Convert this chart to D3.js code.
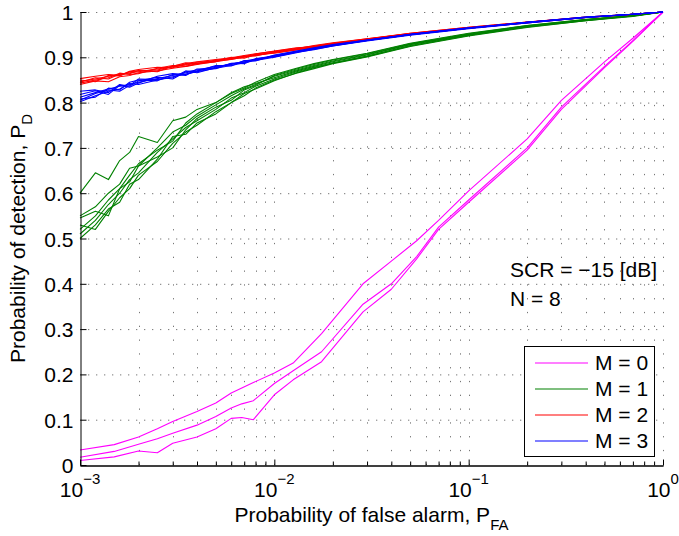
<!DOCTYPE html>
<html>
<head>
<meta charset="utf-8">
<script src="https://cdn.jsdelivr.net/npm/d3@7"></script>
<style>
  body { margin: 0; background: #fff; }
  svg { display: block; font-family: "Liberation Sans", Arial, sans-serif; }
</style>
</head>
<body>
<svg id="chart" width="679" height="536"></svg>
<script>
// false alarm grid shared by the M = 1..3 runs
const pfa = [0.001, 0.0012, 0.0014, 0.0016, 0.0018, 0.002, 0.0025, 0.003, 0.0035, 0.004,
             0.005, 0.006, 0.007, 0.008, 0.01, 0.013, 0.016, 0.02, 0.03, 0.05,
             0.1, 0.2, 0.4, 0.7, 1];

// false alarm grid for the M = 0 runs
const pfa0 = [0.001, 0.0015, 0.002, 0.0025, 0.003, 0.004, 0.005, 0.006, 0.0068, 0.0078,
              0.01, 0.0125, 0.0175, 0.0286, 0.04, 0.054, 0.07, 0.1, 0.2, 0.3,
              0.5, 0.7, 1];

const pdM0 = [
  [0.033, 0.045, 0.062, 0.080, 0.096, 0.118, 0.137, 0.159, 0.170, 0.182, 0.203, 0.225, 0.290, 0.400, 0.450, 0.495, 0.540, 0.605, 0.720, 0.805, 0.890, 0.942, 1],
  [0.017, 0.030, 0.046, 0.058, 0.070, 0.088, 0.107, 0.126, 0.135, 0.142, 0.180, 0.208, 0.250, 0.355, 0.400, 0.460, 0.525, 0.585, 0.700, 0.790, 0.880, 0.937, 1],
  [0.010, 0.018, 0.031, 0.027, 0.048, 0.062, 0.080, 0.103, 0.105, 0.100, 0.155, 0.188, 0.228, 0.338, 0.388, 0.455, 0.520, 0.580, 0.695, 0.785, 0.877, 0.935, 1]
];

const pdM1 = [
  [0.600, 0.645, 0.630, 0.672, 0.690, 0.725, 0.712, 0.760, 0.768, 0.785, 0.800, 0.822, 0.835, 0.842, 0.855, 0.870, 0.880, 0.890, 0.905, 0.928, 0.950, 0.968, 0.982, 0.992, 1],
  [0.550, 0.570, 0.600, 0.620, 0.655, 0.660, 0.700, 0.735, 0.750, 0.770, 0.795, 0.815, 0.830, 0.840, 0.858, 0.872, 0.882, 0.892, 0.906, 0.929, 0.951, 0.969, 0.983, 0.992, 1],
  [0.510, 0.540, 0.575, 0.600, 0.630, 0.645, 0.690, 0.720, 0.745, 0.760, 0.785, 0.810, 0.822, 0.836, 0.852, 0.868, 0.878, 0.888, 0.903, 0.926, 0.949, 0.968, 0.982, 0.991, 1],
  [0.530, 0.520, 0.560, 0.590, 0.610, 0.640, 0.670, 0.710, 0.735, 0.750, 0.780, 0.800, 0.820, 0.830, 0.848, 0.866, 0.877, 0.887, 0.902, 0.925, 0.948, 0.967, 0.981, 0.991, 1],
  [0.545, 0.560, 0.550, 0.610, 0.625, 0.660, 0.680, 0.700, 0.740, 0.765, 0.790, 0.805, 0.828, 0.838, 0.860, 0.874, 0.884, 0.894, 0.908, 0.930, 0.952, 0.970, 0.983, 0.992, 1],
  [0.500, 0.530, 0.565, 0.580, 0.620, 0.630, 0.675, 0.725, 0.730, 0.755, 0.775, 0.800, 0.815, 0.832, 0.850, 0.865, 0.875, 0.886, 0.901, 0.924, 0.947, 0.966, 0.981, 0.990, 1],
  [0.520, 0.550, 0.585, 0.610, 0.640, 0.665, 0.695, 0.715, 0.755, 0.775, 0.800, 0.820, 0.832, 0.845, 0.862, 0.876, 0.886, 0.895, 0.909, 0.931, 0.953, 0.970, 0.984, 0.992, 1]
];

const pdM2 = [
  [0.847, 0.852, 0.858, 0.862, 0.866, 0.868, 0.874, 0.879, 0.883, 0.887, 0.893, 0.898, 0.902, 0.905, 0.911, 0.918, 0.924, 0.930, 0.940, 0.952, 0.965, 0.977, 0.988, 0.995, 1],
  [0.840, 0.848, 0.846, 0.857, 0.860, 0.866, 0.870, 0.876, 0.880, 0.886, 0.890, 0.896, 0.900, 0.904, 0.910, 0.917, 0.923, 0.929, 0.939, 0.951, 0.964, 0.977, 0.988, 0.995, 1],
  [0.853, 0.858, 0.862, 0.860, 0.869, 0.873, 0.878, 0.877, 0.886, 0.890, 0.895, 0.899, 0.904, 0.908, 0.913, 0.920, 0.925, 0.931, 0.941, 0.953, 0.966, 0.978, 0.989, 0.995, 1],
  [0.843, 0.850, 0.855, 0.865, 0.862, 0.864, 0.876, 0.882, 0.880, 0.884, 0.891, 0.900, 0.898, 0.906, 0.909, 0.916, 0.922, 0.928, 0.938, 0.950, 0.964, 0.976, 0.988, 0.995, 1],
  [0.850, 0.846, 0.860, 0.859, 0.868, 0.870, 0.872, 0.880, 0.888, 0.885, 0.894, 0.897, 0.903, 0.903, 0.912, 0.919, 0.926, 0.932, 0.941, 0.952, 0.965, 0.977, 0.989, 0.995, 1],
  [0.845, 0.855, 0.852, 0.863, 0.864, 0.871, 0.868, 0.881, 0.884, 0.889, 0.892, 0.895, 0.901, 0.907, 0.914, 0.921, 0.923, 0.930, 0.940, 0.953, 0.966, 0.978, 0.988, 0.995, 1]
];

const pdM3 = [
  [0.812, 0.822, 0.830, 0.836, 0.840, 0.845, 0.853, 0.860, 0.866, 0.870, 0.878, 0.885, 0.890, 0.894, 0.902, 0.912, 0.919, 0.926, 0.937, 0.950, 0.964, 0.977, 0.988, 0.995, 1],
  [0.802, 0.815, 0.825, 0.830, 0.842, 0.840, 0.850, 0.857, 0.863, 0.868, 0.876, 0.882, 0.888, 0.893, 0.900, 0.910, 0.918, 0.925, 0.936, 0.949, 0.963, 0.976, 0.988, 0.995, 1],
  [0.825, 0.828, 0.822, 0.840, 0.836, 0.848, 0.856, 0.852, 0.868, 0.872, 0.880, 0.884, 0.892, 0.896, 0.904, 0.913, 0.920, 0.927, 0.938, 0.951, 0.965, 0.977, 0.989, 0.995, 1],
  [0.808, 0.812, 0.832, 0.828, 0.845, 0.850, 0.848, 0.862, 0.860, 0.874, 0.875, 0.887, 0.886, 0.897, 0.901, 0.911, 0.917, 0.925, 0.937, 0.950, 0.964, 0.976, 0.988, 0.995, 1],
  [0.818, 0.826, 0.818, 0.838, 0.834, 0.843, 0.858, 0.864, 0.862, 0.869, 0.882, 0.881, 0.893, 0.892, 0.905, 0.914, 0.921, 0.928, 0.938, 0.951, 0.965, 0.977, 0.989, 0.995, 1],
  [0.805, 0.820, 0.828, 0.825, 0.838, 0.852, 0.851, 0.855, 0.870, 0.866, 0.877, 0.886, 0.889, 0.895, 0.903, 0.912, 0.919, 0.926, 0.937, 0.950, 0.964, 0.977, 0.988, 0.995, 1]
];

const legendLabels = ["M = 0", "M = 1", "M = 2", "M = 3"];
const yTicks = d3.range(0, 11).map(i => i / 10);
const xMajor = [1e-3, 1e-2, 1e-1, 1];
const xExp = ["\u22123", "\u22122", "\u22121", "0"];

const svg = d3.select("#chart");
const font = '"Liberation Sans", Arial, sans-serif';
const colors = ["#ff00ff", "#008000", "#ff0000", "#0000ff"];

const x = d3.scaleLog().domain([1e-3, 1]).range([80, 663]);
const y = d3.scaleLinear().domain([0, 1]).range([465, 12]);

// minor ticks 2..9 in each decade
const xMinor = [];
[1e-3, 1e-2, 1e-1].forEach(d => { for (let k = 2; k <= 9; k++) xMinor.push(d * k); });

// grid
const grid = svg.append("g").attr("stroke", "#777").attr("stroke-width", 1);
grid.selectAll("line.gy")
    .data(yTicks.slice(1))
    .join("line")
    .attr("x1", 80).attr("x2", 663)
    .attr("y1", d => y(d) + 0.5).attr("y2", d => y(d) + 0.5)
    .attr("stroke-dasharray", "1.3,6.7");
grid.selectAll("line.gx")
    .data(xMinor.concat(xMajor.slice(1)))
    .join("line")
    .attr("x1", d => Math.round(x(d)) + 0.5).attr("x2", d => Math.round(x(d)) + 0.5)
    .attr("y1", 465).attr("y2", 12)
    .attr("stroke-dasharray", "1.3,12.5");

// curves
const line0 = d3.line().x((d, i) => x(pfa0[i])).y(d => y(d));
const line = d3.line().x((d, i) => x(pfa[i])).y(d => y(d));

const groups = [pdM0, pdM1, pdM2, pdM3];
groups.forEach((runs, gi) => {
    svg.append("g")
        .selectAll("path")
        .data(runs)
        .join("path")
        .attr("fill", "none")
        .attr("stroke", colors[gi])
        .attr("stroke-width", 1.1)
        .attr("stroke-linejoin", "round")
        .attr("d", gi === 0 ? line0 : line);
});

// axes
const yAxis = svg.append("g")
    .attr("transform", "translate(80.5,0)")
    .call(d3.axisLeft(y).tickValues(yTicks).tickFormat(d3.format("~g"))
        .tickSizeInner(-6).tickSizeOuter(0).tickPadding(7));

svg.append("g")
    .attr("transform", "translate(0,465.5)")
    .call(d3.axisBottom(x).tickValues(xMinor).tickFormat("").tickSizeInner(-4).tickSizeOuter(0));

svg.append("g")
    .attr("transform", "translate(0,465.5)")
    .call(d3.axisBottom(x).tickValues(xMajor).tickFormat("").tickSizeInner(-6).tickSizeOuter(0));

svg.selectAll(".domain, .tick line").attr("stroke", "#000");
yAxis.selectAll("text")
    .attr("font-family", font)
    .attr("font-size", 21)
    .attr("fill", "#000")
    .attr("dy", "0.36em");

// x tick labels 10^k
const xl = svg.selectAll("text.xlab")
    .data(xMajor)
    .join("text")
    .attr("class", "xlab")
    .attr("x", d => x(d))
    .attr("y", 497)
    .attr("text-anchor", "middle")
    .attr("font-size", 21)
    .attr("fill", "#000");
xl.append("tspan").text("10");
xl.append("tspan").attr("dy", -13).attr("font-size", 15).text((d, i) => xExp[i]);

// axis labels
const xt = svg.append("text")
    .attr("x", 371.5).attr("y", 522)
    .attr("text-anchor", "middle")
    .attr("font-size", 21)
    .attr("fill", "#000");
xt.append("tspan").text("Probability of false alarm, P");
xt.append("tspan").attr("dy", 8).attr("font-size", 15).text("FA");

const yt = svg.append("text")
    .attr("transform", "translate(25,238.5) rotate(-90)")
    .attr("text-anchor", "middle")
    .attr("font-size", 21)
    .attr("fill", "#000");
yt.append("tspan").text("Probability of detection, P");
yt.append("tspan").attr("dy", 7).attr("font-size", 15).text("D");

// annotations
svg.append("text").attr("x", 510).attr("y", 277).attr("font-size", 21).text("SCR = \u221215 [dB]");
svg.append("text").attr("x", 510).attr("y", 306).attr("font-size", 21).text("N = 8");

// legend
const lg = svg.append("g");
lg.append("rect")
    .attr("x", 524.5).attr("y", 346.5)
    .attr("width", 130).attr("height", 110)
    .attr("fill", "#fff").attr("stroke", "#000");
const rows = lg.selectAll("g.row")
    .data(legendLabels)
    .join("g")
    .attr("transform", (d, i) => `translate(0,${370 + i * 26})`);
rows.append("line")
    .attr("x1", 535).attr("x2", 588)
    .attr("y1", -7).attr("y2", -7)
    .attr("stroke", (d, i) => colors[i])
    .attr("stroke-width", 1.1);
rows.append("text")
    .attr("x", 595).attr("y", 0)
    .attr("font-size", 21)
    .text(d => d);
</script>
</body>
</html>
